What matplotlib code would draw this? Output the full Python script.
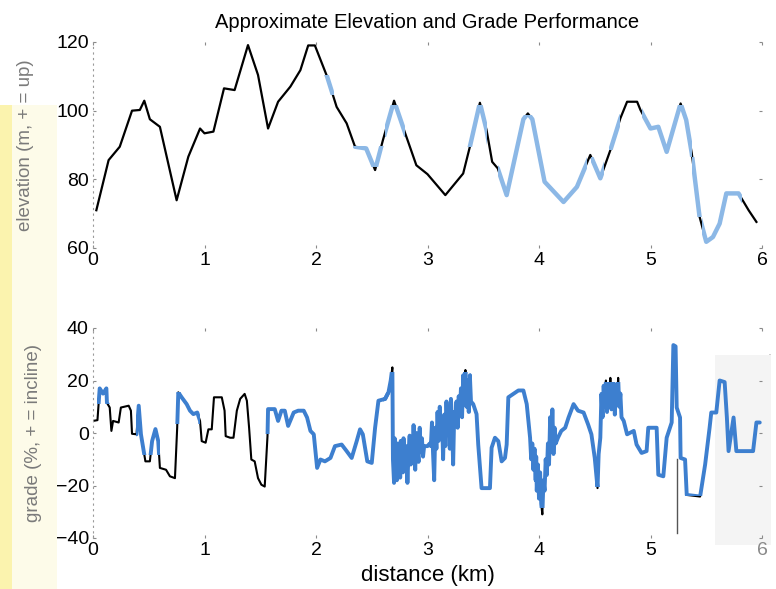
import numpy as np
import matplotlib
matplotlib.use('Agg')
import matplotlib.pyplot as plt
from matplotlib.patches import Rectangle
from matplotlib.lines import Line2D

plt.rcParams['font.family'] = ['Liberation Sans', 'DejaVu Sans']

# elevation profile (km, m)
elev_km = [0.03, 0.14, 0.24, 0.35, 0.42, 0.46, 0.51, 0.60, 0.75, 0.855, 0.96, 1.0,
           1.08, 1.175, 1.27, 1.39, 1.48, 1.57, 1.66, 1.77, 1.86, 1.93, 1.99, 2.10,
           2.185, 2.275, 2.35, 2.45, 2.53, 2.60, 2.70, 2.80, 2.90, 3.0, 3.16, 3.32,
           3.38, 3.47, 3.53, 3.58, 3.63, 3.71, 3.86, 3.90, 3.94, 4.05, 4.22, 4.34,
           4.46, 4.55, 4.64, 4.73, 4.79, 4.88, 4.91, 5.0, 5.07, 5.145, 5.27, 5.32,
           5.37, 5.44, 5.50, 5.56, 5.62, 5.68, 5.79, 5.88, 5.95]
elev_m = [71, 85.6, 89.5, 100, 100.2, 102.9, 97.5, 95.3, 73.9, 86.6, 94.8, 93.4,
          93.9, 106.5, 106, 119.1, 110.4, 94.8, 102.6, 107, 111.8, 119, 119, 109.9,
          101.1, 96.3, 89.5, 89, 82.7, 91.4, 102.9, 93.4, 84.1, 81.5, 75.4, 81.7,
          89.5, 102.3, 94.3, 85.1, 83.2, 75.4, 97.5, 99.2, 97.5, 79.3, 73.4, 77.8,
          87.1, 80.3, 88.5, 97.8, 102.6, 102.6, 100.2, 94.8, 95.3, 88, 102.1, 97.3,
          87.6, 69.1, 61.8, 63.2, 67.1, 75.9, 75.9, 71, 67.6]

# grade profile (km, %)
grade_km = [0.00, 0.04, 0.05, 0.06, 0.09, 0.12, 0.125, 0.15, 0.165, 0.18, 0.23, 0.25,
            0.32, 0.34, 0.35, 0.39, 0.41, 0.43, 0.47, 0.51, 0.53, 0.56, 0.585, 0.60,
            0.655, 0.69, 0.735, 0.755, 0.765, 0.795, 0.84, 0.87, 0.90, 0.935, 0.96,
            0.975, 1.01, 1.035, 1.065, 1.085, 1.155, 1.18, 1.19, 1.23, 1.26, 1.29,
            1.32, 1.36, 1.38, 1.40, 1.42, 1.45, 1.48, 1.51, 1.54, 1.565, 1.57, 1.63,
            1.66, 1.69, 1.72, 1.75, 1.80, 1.84, 1.89, 1.92, 1.95, 1.98, 2.01, 2.04,
            2.08, 2.13, 2.17, 2.23, 2.275, 2.32, 2.365, 2.395, 2.42, 2.46, 2.50, 2.53,
            2.56, 2.62, 2.65, 2.67, 2.685,
            2.69, 2.70, 2.705, 2.71, 2.72, 2.725, 2.73, 2.74, 2.75, 2.755, 2.76, 2.77,
            2.78, 2.785, 2.79, 2.80, 2.81, 2.82, 2.83, 2.84, 2.85, 2.86, 2.87, 2.875,
            2.88, 2.89, 2.90, 2.91, 2.92, 2.93, 2.94, 2.95, 2.96, 2.97, 2.98, 3.00,
            3.02, 3.03, 3.04, 3.05, 3.06, 3.07, 3.08, 3.09, 3.10, 3.11, 3.12, 3.13,
            3.14, 3.15, 3.16, 3.17, 3.18, 3.19, 3.20, 3.21, 3.22, 3.23, 3.24, 3.25,
            3.26, 3.27, 3.28, 3.29, 3.30, 3.31, 3.32, 3.33, 3.34, 3.35, 3.36, 3.37,
            3.38, 3.39, 3.41, 3.44, 3.455, 3.485, 3.56, 3.575, 3.605, 3.635, 3.665,
            3.695, 3.71, 3.725, 3.77, 3.815, 3.86, 3.89, 3.92, 3.93, 3.94, 3.95, 3.96,
            3.97, 3.975, 3.98, 3.99, 4.00, 4.01, 4.02, 4.03, 4.04, 4.05, 4.06, 4.07,
            4.08, 4.09, 4.10, 4.11, 4.12, 4.13, 4.14, 4.15, 4.17, 4.20, 4.235, 4.265,
            4.31, 4.35, 4.40, 4.44, 4.47, 4.50, 4.51, 4.525, 4.535, 4.55, 4.56, 4.57,
            4.58, 4.59, 4.60, 4.61, 4.62, 4.63, 4.64, 4.65, 4.66, 4.67, 4.68, 4.69,
            4.70, 4.71, 4.72, 4.73, 4.74, 4.76, 4.79, 4.85, 4.875, 4.92, 4.965, 4.98,
            5.03, 5.055, 5.07, 5.115, 5.145, 5.175, 5.19, 5.205, 5.225, 5.235, 5.265,
            5.27, 5.31, 5.325, 5.445, 5.49, 5.53, 5.545, 5.59, 5.62, 5.665, 5.685,
            5.70, 5.745, 5.77, 5.86, 5.92, 5.95, 5.98]
grade_pct = [4.6, 4.9, 11, 17, 15, 17, 11.5, 9.7, 0.8, 4.6, 4, 9.7,
             10.4, 8.5, -0.3, -0.5, 10.4, -0.5, -10.8, -10.8, -3.1, 1.5, -3.1, -13.3,
             -14, -16.5, -17.2, 2, 15.5, 13.6, 11, 8.5, 7.2, 7.8, 4.6,
             -3.1, -3.7, 1.4, 1.4, 13.6, 13.6, 8.5, -1.2, -1.8, -1.8, 8.5,
             13, 14.9, 12.3, 2, -10.1, -10.8, -17.2, -19.7, -20.4, -1.2, 9.1, 9.1,
             4.6, 8.5, 8.5, 2.7, 7.8, 8.5, 8.5, 5.9, 0.8, -0.5, -13.3, -10.1,
             -10.8, -9.5, -5, -4.4, -6.9, -9.5, -3.1, 1.4, -0.5, -10.8, -11.4, 2,
             12.3, 13, 15.5, 20, 25,
             -10, -19, -2, -14, -6, -18, -4, -12, -8, -17, -3, -11,
             -15, -2, -9, -14, -5, -19, -7, -1, -12, -4, -10, 3,
             -8, -14, 0, -6, -11, 2, -7, -2, -9, -5, -5, -5,
             -4, -5, 4, -8, -18, 2, -6, 8, -3, 10, -2, 6,
             -10, 7, -5, 12, 0, 9, -6, 13, 4, -12, 8, 5,
             12, 2, 14, 8, 17, 6, 22, 14, 24, 10, 20, 8,
             22, 12, 11, 7.2, -4.4, -21, -21, -5.6, -1.8, -3.1, -10.8,
             -9.5, -4.4, 13.6, 14.9, 16.2, 16.2, 11, -1.8, -10, -4, -14, -6,
             -18, -9, -22, -12, -25, -15, -27, -31, -18, -22, -10, -16,
             -4, -12, 6, -6, 9, -8, 2, -4, -1.8, 0.8, 2, 5.9,
             11, 8.5, 7.8, 3.3, -0.5, -9.5, -14, -21, -8, -1.8, 14.9, 6,
             18, 10, 20, 8, 18, 12, 21, 9, 16, 19, 7, 17,
             12, 21, 10, 15, 6, 4.6, -0.5, 0.8, -4.4, -7.6, -6.9, 2,
             2, 2, -15.9, -16.5, -1.8, 2, 4, 33.5, 33, 9.7, 5.9,
             -9.5, -10.1, -23.6, -24.2, -12, 2, 7.8, 7.8, 20, 19.4, 5.9,
             -6.9, 5.9, -6.9, -6.9, -6.9, 4, 4]

# stray vertical trace in lower panel
spike_km = [5.235, 5.235]
spike_pct = [-10, -38]

# highlighted (blue) windows: (km0, km1, v0, v1)
elev_blue = [(2.07, 2.16, 104.5, 110.4), (2.335, 2.62, 83.6, 89.8), (2.62, 2.80, 92.4, 101.6),
             (3.35, 3.53, 89.5, 101.6), (3.63, 4.10, 74.4, 98.7), (4.10, 4.43, 71.5, 98.7),
             (4.47, 4.58, 71.5, 86.5), (4.63, 4.73, 88.5, 99), (4.92, 5.37, 86.6, 101.6),
             (5.37, 5.46, 69.1, 86.6), (5.46, 5.82, 60, 77.8)]
grade_blue = [(0.04, 0.15, 11, 19.5), (0.39, 0.60, -8.2, 11.7), (0.675, 0.96, 3.3, 15.5),
              (1.51, 1.87, -0.5, 11.7), (1.87, 2.66, -16.5, 15.5), (2.60, 3.40, -20.4, 23.2),
              (3.38, 4.08, -28.7, 23.2), (4.08, 4.82, -20.5, 19.3), (4.82, 5.55, -24, 36),
              (5.55, 6.0, -30, 30)]

fig = plt.figure(figsize=(7.76, 5.89), dpi=100)
fig.patch.set_facecolor('white')

# scan artefacts: yellow strip at left, grey panel at right
fig.patches.append(Rectangle((0, 0), 12 / 776, 1 - 105 / 589, transform=fig.transFigure,
                             facecolor='#fbf3ae', edgecolor='none', zorder=-10))
fig.patches.append(Rectangle((12 / 776, 0), 45 / 776, 1 - 105 / 589, transform=fig.transFigure,
                             facecolor='#fdfbe9', edgecolor='none', zorder=-10))
fig.patches.append(Rectangle((715 / 776, 1 - 545 / 589), 56 / 776, 190 / 589,
                             transform=fig.transFigure, facecolor='#f4f4f4',
                             edgecolor='none', zorder=-10))
fig.lines.append(Line2D([770 / 776, 770 / 776], [1 - 540 / 589, 1 - 355 / 589],
                        transform=fig.transFigure, color='#bdbdbd', lw=1.2, zorder=-10))

ax1 = fig.add_axes([93 / 776, 1 - 248 / 589, 669 / 776, 206 / 589])
ax2 = fig.add_axes([93 / 776, 1 - 538 / 589, 669 / 776, 210 / 589])


def style_axes(ax):
    ax.set_facecolor('none')
    ax.set_xlim(0, 6)
    ax.set_xticks(range(7))
    for s in ['top', 'right', 'bottom']:
        ax.spines[s].set_visible(False)
    ax.spines['left'].set_linestyle((0, (1, 4)))
    ax.spines['left'].set_color('#9a9a9a')
    ax.spines['left'].set_linewidth(0.8)
    ax.tick_params(direction='in', length=2.5, width=0.8, color='#8a8a8a',
                   top=True, right=True, labelsize=14, labelcolor='black', pad=3)


def draw_blue(ax, xs, ys, windows, color, lw):
    for x0, x1, y0, y1 in windows:
        line, = ax.plot(xs, ys, color=color, lw=lw, solid_capstyle='round', zorder=3)
        clip = Rectangle((x0, y0), x1 - x0, y1 - y0, transform=ax.transData)
        line.set_clip_path(clip)


# upper: elevation
style_axes(ax1)
ax1.plot(elev_km, elev_m, color='black', lw=1.6, zorder=2)
draw_blue(ax1, elev_km, elev_m, elev_blue, '#8cb8e6', 3.2)
ax1.set_ylim(60, 120)
ax1.set_yticks([60, 80, 100, 120])
ax1.set_ylabel('elevation (m, + = up)', color='#7a7a7a', fontsize=13.5, labelpad=16)
ax1.set_title('Approximate Elevation and Grade Performance', fontsize=14.5, pad=10)

# lower: grade
style_axes(ax2)
ax2.plot(grade_km, grade_pct, color='black', lw=1.5, zorder=2)
draw_blue(ax2, grade_km, grade_pct, grade_blue, '#3d7fcf', 2.8)
ax2.plot(spike_km, spike_pct, color='#555555', lw=1.0, zorder=2)
ax2.set_ylim(-40, 40)
ax2.set_yticks([-40, -20, 0, 20, 40])
ax2.set_ylabel('grade (%, + = incline)', color='#7a7a7a', fontsize=13.5, labelpad=10)
ax2.set_xlabel('distance (km)', fontsize=16, labelpad=4)
ax2.get_xticklabels()[-1].set_color('#8a8a8a')

fig.savefig('out.png', dpi=100)
